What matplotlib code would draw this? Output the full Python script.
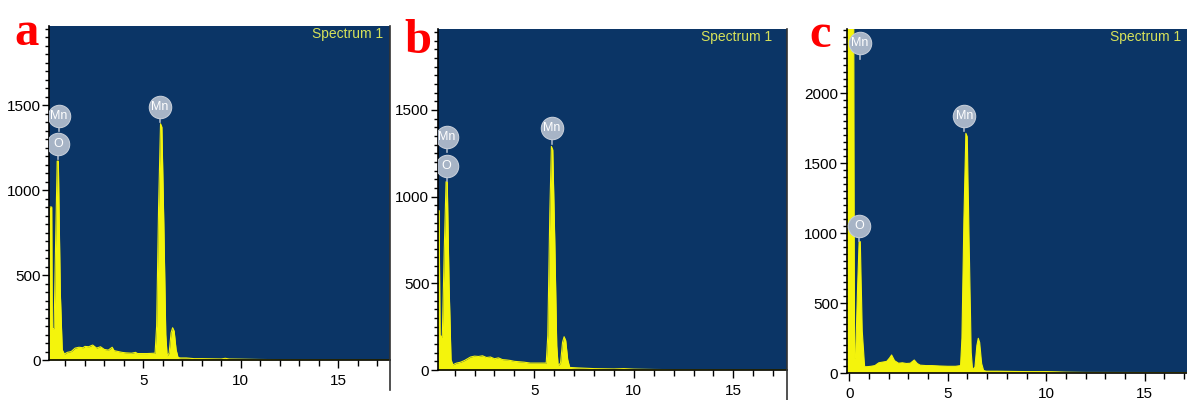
import matplotlib
matplotlib.use("Agg")
import matplotlib.pyplot as plt
from matplotlib.lines import Line2D
from matplotlib.ticker import MultipleLocator

# EDS spectra: energy (keV) and counts
energy_a = [0.16, 0.30, 0.33, 0.42, 0.50, 0.58, 0.64, 0.74, 0.84, 0.95, 1.1, 1.3, 1.5, 1.7,
            1.9, 2.0, 2.2, 2.4, 2.6, 2.8, 3.0, 3.2, 3.4, 3.5, 3.7, 3.9, 4.1, 4.4, 4.6, 4.7,
            5.2, 5.6, 5.68, 5.78, 5.88, 5.95, 6.05, 6.15, 6.22, 6.32, 6.42, 6.5, 6.58, 6.68,
            6.78, 6.9, 7.2, 7.6, 8.0, 9.0, 9.2, 9.4, 10.0, 11.0, 12.0, 17.7]
counts_a = [900, 900, 185, 185, 700, 1170, 1170, 400, 60, 35, 45, 50, 70, 75,
            72, 80, 78, 88, 70, 78, 62, 58, 75, 55, 50, 45, 42, 40, 45, 38,
            38, 40, 200, 900, 1390, 1370, 800, 150, 25, 40, 160, 190, 170, 60,
            15, 12, 12, 8, 8, 6, 10, 6, 5, 3, 2, 1]

energy_b = [0.15, 0.22, 0.27, 0.38, 0.48, 0.57, 0.63, 0.72, 0.82, 0.91, 1.1, 1.3, 1.5, 1.8,
            2.0, 2.2, 2.4, 2.6, 2.8, 3.0, 3.2, 3.4, 3.6, 3.8, 4.0, 4.2, 4.5, 4.8, 5.2,
            5.6, 5.68, 5.78, 5.86, 5.93, 6.03, 6.13, 6.2, 6.32, 6.42, 6.5, 6.58, 6.68,
            6.78, 6.9, 7.2, 7.6, 8.0, 9.0, 9.5, 10.0, 11.0, 12.0, 17.7]
counts_b = [920, 920, 200, 190, 700, 1086, 1086, 500, 60, 30, 40, 45, 55, 75,
            80, 78, 82, 72, 75, 65, 70, 60, 58, 55, 50, 48, 45, 40, 40,
            40, 200, 900, 1290, 1270, 750, 140, 25, 40, 160, 192, 170, 60,
            15, 14, 12, 10, 8, 6, 8, 5, 3, 2, 1]

energy_c = [-0.13, 0.22, 0.27, 0.32, 0.42, 0.50, 0.56, 0.66, 0.78, 0.9, 1.1, 1.3, 1.5, 1.7,
            1.9, 2.05, 2.15, 2.3, 2.5, 2.7, 2.9, 3.1, 3.3, 3.45, 3.6, 3.9, 4.2, 4.6, 5.0,
            5.4, 5.65, 5.72, 5.82, 5.92, 5.99, 6.09, 6.19, 6.26, 6.38, 6.48, 6.55, 6.62,
            6.72, 6.82, 6.95, 7.5, 8.0, 9.0, 10.0, 10.6, 11.0, 12.0, 17.5]
counts_c = [3000, 3000, 110, 107, 600, 940, 940, 300, 47, 47, 50, 55, 75, 80,
            85, 110, 131, 90, 72, 75, 70, 72, 95, 70, 58, 55, 55, 52, 50,
            50, 55, 250, 1100, 1714, 1690, 900, 150, 25, 45, 200, 250, 220, 70,
            20, 15, 15, 14, 12, 12, 10, 8, 6, 5]

# peak markers: (label, energy, counts) centre of the grey badge
labels_a = [("Mn", 0.65, 1437), ("O", 0.62, 1270), ("Mn", 5.86, 1490)]
labels_b = [("Mn", 0.60, 1345), ("O", 0.60, 1178), ("Mn", 5.87, 1394)]
labels_c = [("Mn", 0.54, 2357), ("O", 0.50, 1054), ("Mn", 5.84, 1838)]

NAVY = "#0b3566"
YELLOW = "#f4f40c"
BADGE = "#a7b4c6"

W, H = 1187, 400
fig = plt.figure(figsize=(W / 100, H / 100), dpi=100)
fig.patch.set_facecolor("white")

# (left px, right px, top px, bottom px) for each axes box
boxes = [(49, 390, 26, 360), (437.7, 786.7, 29, 370), (846.7, 1194, 29, 373.3)]
xlims = [(0.16, 17.65), (0.15, 17.68), (-0.13, 17.5)]
ylims = [1965, 1967, 2459]
panels = [(energy_a, counts_a, labels_a), (energy_b, counts_b, labels_b),
          (energy_c, counts_c, labels_c)]
letters = [("a", 14, 45), ("b", 404, 53), ("c", 809, 47)]

for (l, r, t, b), xl, ytop, (ex, cy, labs), (let, lx, ly) in zip(boxes, xlims, ylims, panels, letters):
    ax = fig.add_axes([l / W, 1 - b / H, (r - l) / W, (b - t) / H])
    ax.set_facecolor(NAVY)
    ax.fill_between(ex, 0, cy, color=YELLOW, lw=0)
    ax.plot(ex, cy, color=YELLOW, lw=0.8)
    ax.set_xlim(*xl)
    ax.set_ylim(0, ytop)
    for side in ["top", "right"]:
        ax.spines[side].set_visible(False)
    for side in ["left", "bottom"]:
        ax.spines[side].set_linewidth(1.2)
    ax.xaxis.set_major_locator(MultipleLocator(5))
    ax.xaxis.set_minor_locator(MultipleLocator(1))
    ax.yaxis.set_major_locator(MultipleLocator(500))
    ax.yaxis.set_minor_locator(MultipleLocator(50))
    ax.tick_params(axis="y", which="major", length=5, width=1, pad=1, labelsize=11)
    ax.tick_params(axis="y", which="minor", length=3, width=1)
    ax.tick_params(axis="x", which="major", length=6, width=1, pad=4, labelsize=11)
    ax.tick_params(axis="x", which="minor", length=4, width=1)
    for lab in ax.get_xticklabels() + ax.get_yticklabels():
        lab.set_fontfamily("Liberation Sans")

    # grey peak badges with a short stem
    for name, x, y in labs:
        ax.plot([x, x], [y, y - ytop * 0.045], color=BADGE, lw=1.2, zorder=4)
        ax.scatter([x], [y], s=260, color=BADGE, edgecolor="#c3cbd7", lw=0.8, zorder=5)
        ax.text(x, y, name, ha="center", va="center", color="white", fontsize=9,
                family="Liberation Sans", zorder=6)

    fig.text((l + 263) / W, 1 - (t + 8) / H, "Spectrum 1", fontsize=10,
             color="#d6e15a", family="Liberation Sans", ha="left", va="center")

    # right edge line of the spectrum window
    fig.add_artist(Line2D([r / W, r / W], [1 - (b + 30) / H, 1 - t / H],
                          color="#333333", lw=1.2))

    fig.text(lx / W, 1 - ly / H, let, color="#ff0000", fontsize=35, weight="bold",
             family="Liberation Serif", ha="left", va="baseline")

fig.savefig("out.png", dpi=100)
